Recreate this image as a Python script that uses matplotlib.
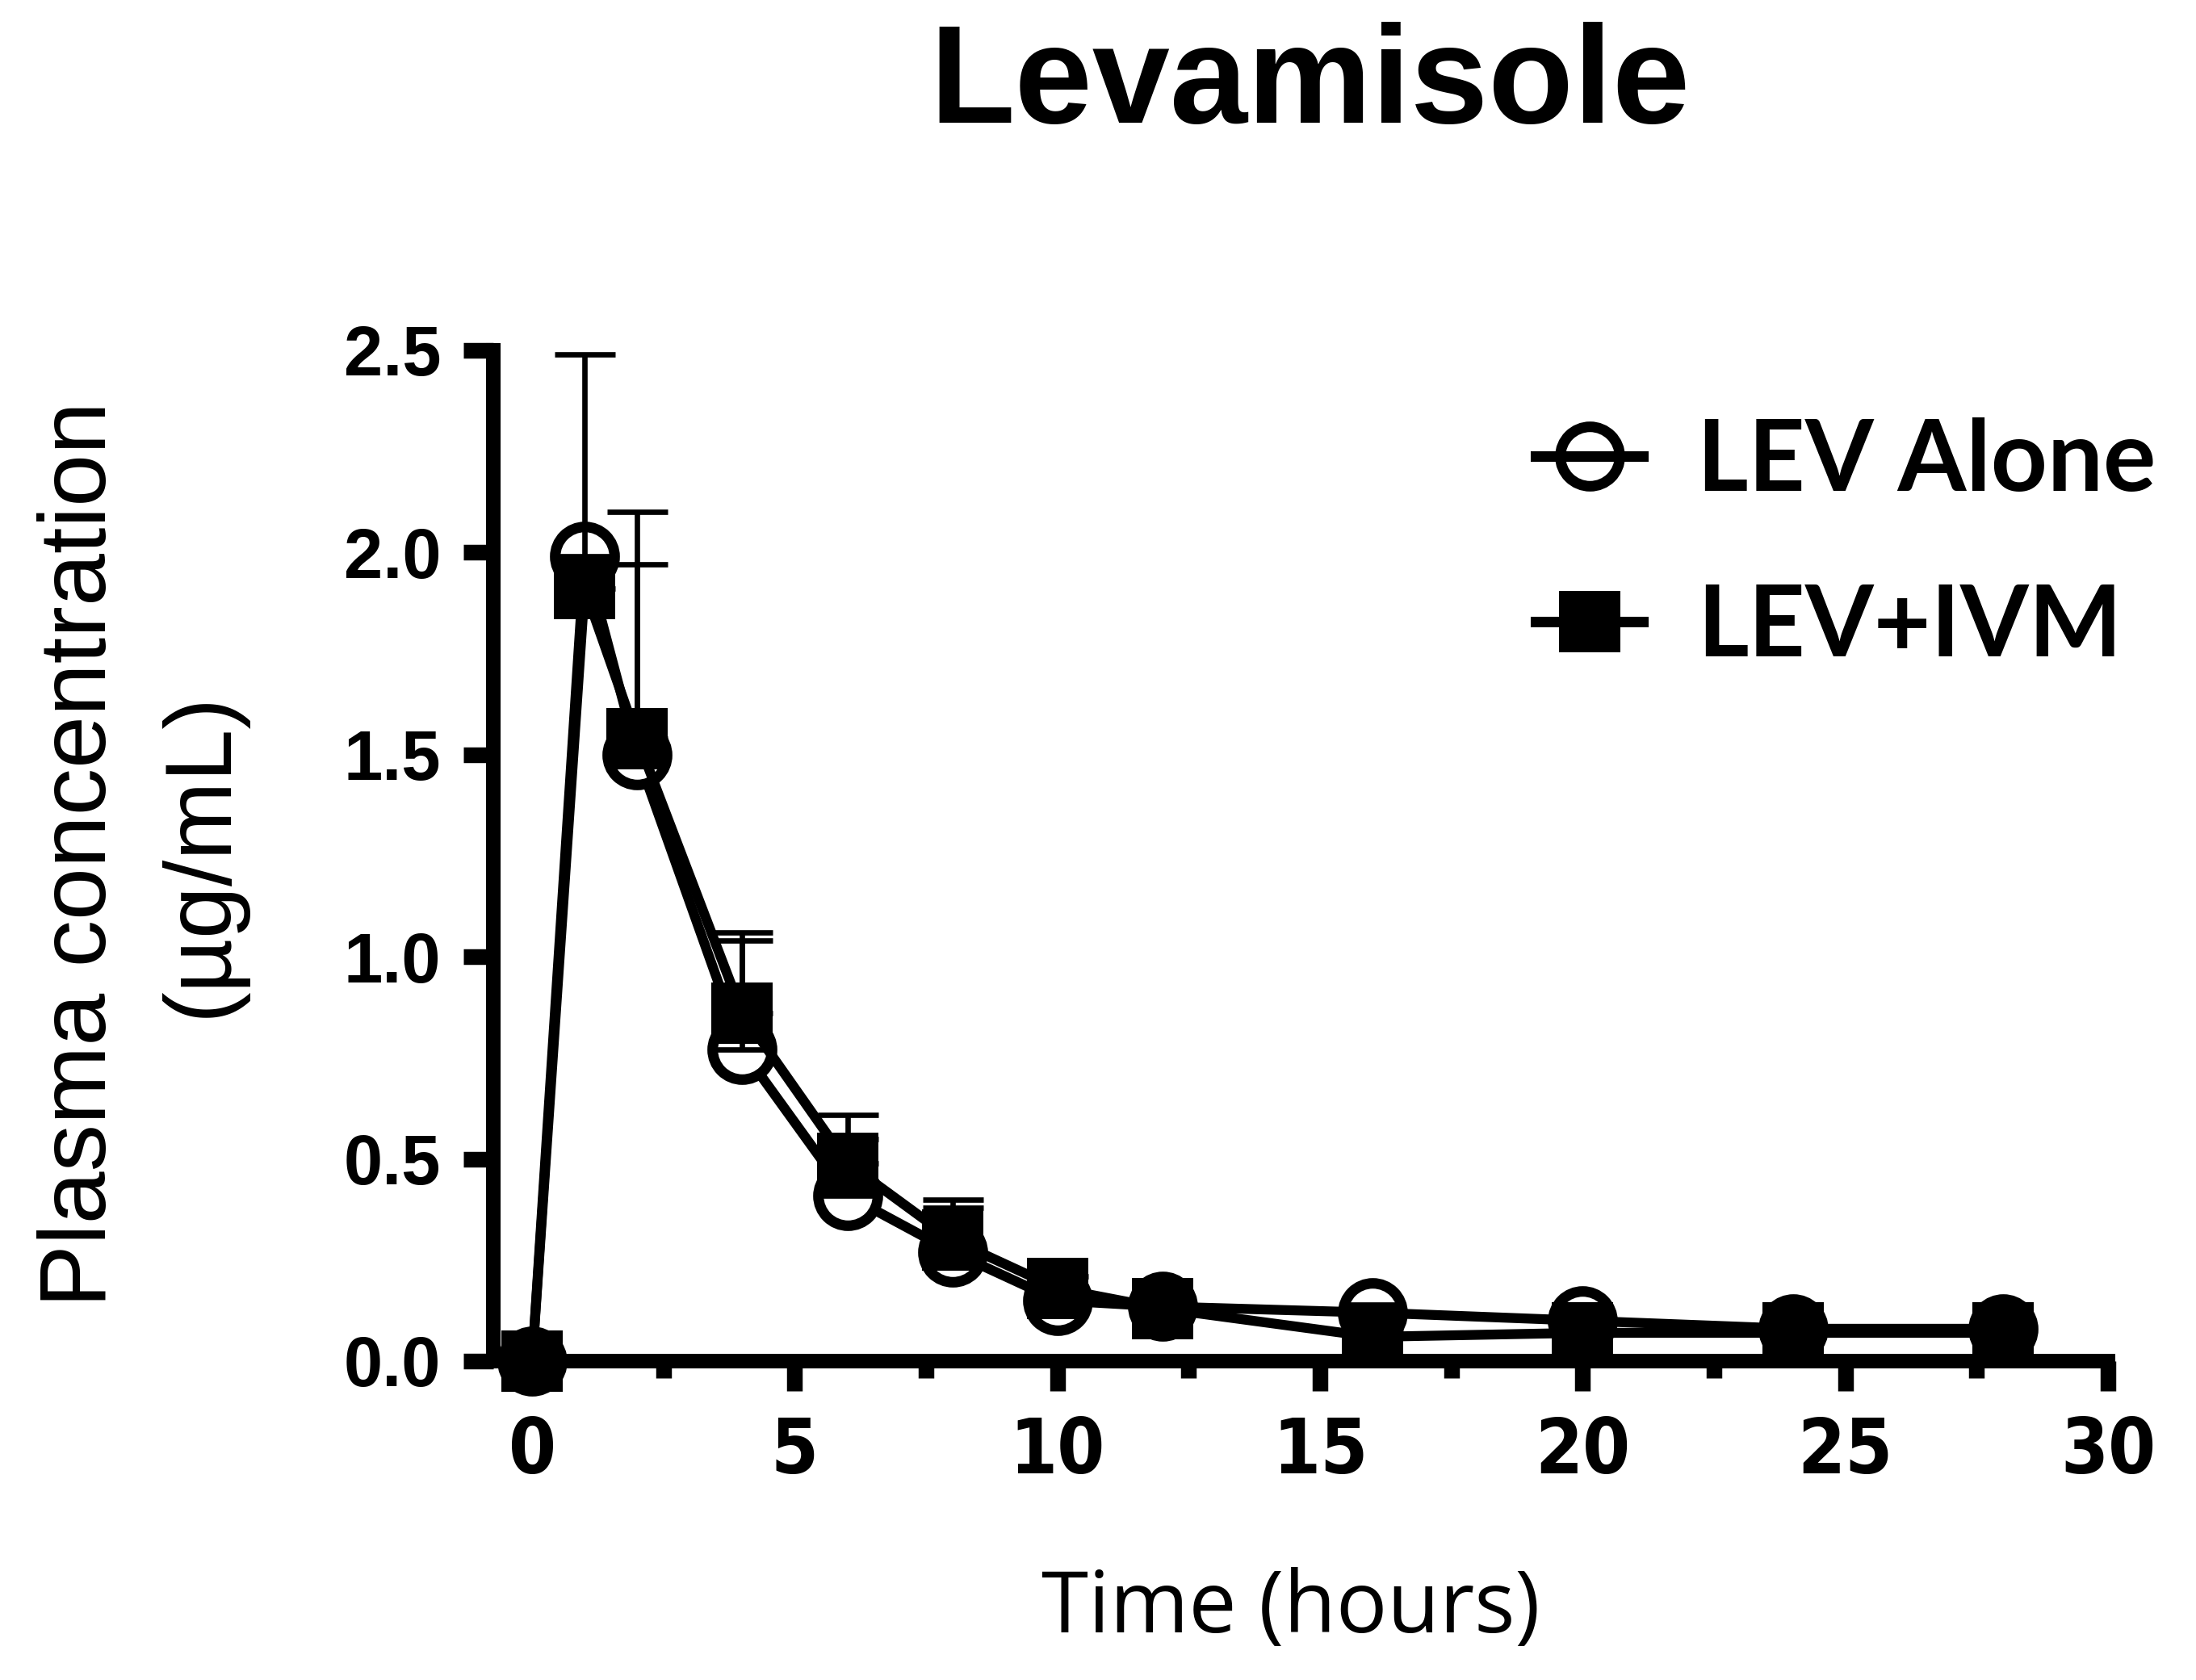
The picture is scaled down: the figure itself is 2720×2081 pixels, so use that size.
"""
Levamisole plasma concentration vs time (LEV alone vs LEV+IVM)
"""

import matplotlib
matplotlib.use('Agg')
import matplotlib.pyplot as plt
from matplotlib import font_manager
from matplotlib.font_manager import FontProperties
from matplotlib.lines import Line2D
from matplotlib.ticker import MultipleLocator

# ==================== data ====================

time_h = [0, 1, 2, 4, 6, 8, 10, 12, 16, 20, 24, 28]

lev_alone = [0, 1.99, 1.50, 0.77, 0.41, 0.27, 0.15, 0.135, 0.12, 0.10, 0.08, 0.08]
lev_alone_sd = [0, 0.50, 0.60, 0.27, 0.14, 0.11, 0.03, 0.02, 0.02, 0.02, 0.01, 0.01]

lev_ivm = [0, 1.91, 1.54, 0.86, 0.49, 0.30, 0.18, 0.13, 0.06, 0.07, 0.07, 0.07]
lev_ivm_sd = [0, 0.06, 0.43, 0.20, 0.12, 0.10, 0.03, 0.02, 0.02, 0.01, 0.01, 0.01]

series_labels = ['LEV Alone', 'LEV+IVM']
x_ticks = [0, 5, 10, 15, 20, 25, 30]
y_ticks = [0.0, 0.5, 1.0, 1.5, 2.0, 2.5]


# ==================== fonts ====================

def pick_font(candidates):
    names = {f.name for f in font_manager.fontManager.ttflist}
    for c in candidates:
        if c in names:
            return c
    return 'DejaVu Sans'


def find_condensed_bold():
    # 找一个窄体粗体字（x 轴刻度用），找不到就返回 None
    for f in font_manager.fontManager.ttflist:
        n = (f.name + ' ' + f.fname).lower()
        narrow = 'narrow' in n or 'condensed' in n or str(f.stretch) in ('condensed', 'semi-condensed')
        bold = f.weight in ('bold', 700, 'heavy') or 'bold' in f.fname.lower()
        if narrow and bold and 'mono' not in n and 'serif' not in n.replace('sans', ''):
            return f.fname
    return None


F_TITLE = pick_font(['Liberation Sans', 'Arial'])
F_YTICK = pick_font(['Liberation Sans', 'Arial'])
F_YLAB = pick_font(['Liberation Sans', 'Arial'])
F_XLAB = pick_font(['Open Sans', 'Lato'])
F_LEG = pick_font(['Lato', 'Open Sans'])

narrow_file = find_condensed_bold()
if narrow_file:
    xtick_fp = FontProperties(fname=narrow_file, size=68)
else:
    xtick_fp = FontProperties(family=F_YTICK, weight='bold', size=66)

W, H = 2720, 2081
fig = plt.figure(figsize=(W / 100, H / 100), dpi=100)

# axes box in pixel coords: left spine x=611, x=30 at 2611, y=0 at 1686, y=2.5 at 434
ax = fig.add_axes([611 / W, 1 - 1686 / H, (2611 - 611) / W, (1686 - 434) / H])

LW = 8.8        # data lines
SPINE = 13      # axis lines

# LEV alone: open circles
ax.plot(time_h, lev_alone, color='black', lw=LW, marker='o', ms=53, mew=9.4,
        mfc='white', mec='black', zorder=3, clip_on=False)
# LEV+IVM: filled squares on top
ax.plot(time_h, lev_ivm, color='black', lw=LW, marker='s', ms=55, mew=0,
        mfc='black', zorder=5, clip_on=False)

# error bars (upper only)
zeros = [0] * len(time_h)
ax.errorbar(time_h, lev_alone, yerr=[zeros, lev_alone_sd], fmt='none', ecolor='black',
            elinewidth=4.8, capsize=27, capthick=4.8, zorder=4, clip_on=False)
ax.errorbar(time_h, lev_ivm, yerr=[zeros, lev_ivm_sd], fmt='none', ecolor='black',
            elinewidth=4.8, capsize=27, capthick=4.8, zorder=4, clip_on=False)

ax.set_xlim(-0.74, 30)
ax.set_ylim(0, 2.5)

for s in ['top', 'right']:
    ax.spines[s].set_visible(False)
for s in ['left', 'bottom']:
    ax.spines[s].set_linewidth(SPINE)
    ax.spines[s].set_capstyle('projecting')

ax.set_xticks(x_ticks)
ax.xaxis.set_minor_locator(MultipleLocator(2.5))
ax.set_yticks(y_ticks)

ax.tick_params(axis='both', which='major', direction='out', length=26.5, width=14, color='black')
ax.tick_params(axis='x', which='minor', direction='out', length=15, width=14)
ax.tick_params(axis='x', which='major', pad=22)
ax.tick_params(axis='y', which='major', pad=20)

ax.set_xticklabels([str(t) for t in x_ticks], fontproperties=xtick_fp)
ax.set_yticklabels([f'{t:.1f}' for t in y_ticks], fontfamily=F_YTICK, fontweight='bold', fontsize=62.5)

# ==================== text ====================

fig.text(1622 / W, 1 - 152 / H, 'Levamisole', ha='center', va='baseline',
         fontfamily=F_TITLE, fontweight='bold', fontsize=124.5)

fig.text(1599 / W, 1 - 2022 / H, 'Time (hours)', ha='center', va='baseline',
         fontfamily=F_XLAB, fontsize=76)

fig.text(131 / W, 1 - 1058 / H, 'Plasma concentration', rotation=90, rotation_mode='anchor',
         ha='center', va='baseline', fontfamily=F_YLAB, fontsize=84)
fig.text(280 / W, 1 - 1058 / H, '(µg/mL)', rotation=90, rotation_mode='anchor',
         ha='center', va='baseline', fontfamily=F_YLAB, fontsize=84)

# ==================== legend ====================

handles = [
    Line2D([], [], color='black', lw=9.4, marker='o', ms=53, mew=9.4, mfc='none', mec='black'),
    Line2D([], [], color='black', lw=9.4, marker='s', ms=55, mew=0, mfc='black'),
]
leg = fig.legend(handles, series_labels, loc='upper left', bbox_to_anchor=(1902 / W, 1 - 517 / H),
                 frameon=False, borderpad=0, borderaxespad=0, handlelength=1.09,
                 handletextpad=0.55, labelspacing=0.76,
                 prop={'family': F_LEG, 'weight': 'bold', 'size': 88})

print('fonts:', F_TITLE, narrow_file, F_XLAB, F_LEG)
fig.savefig('out.png', dpi=100)
